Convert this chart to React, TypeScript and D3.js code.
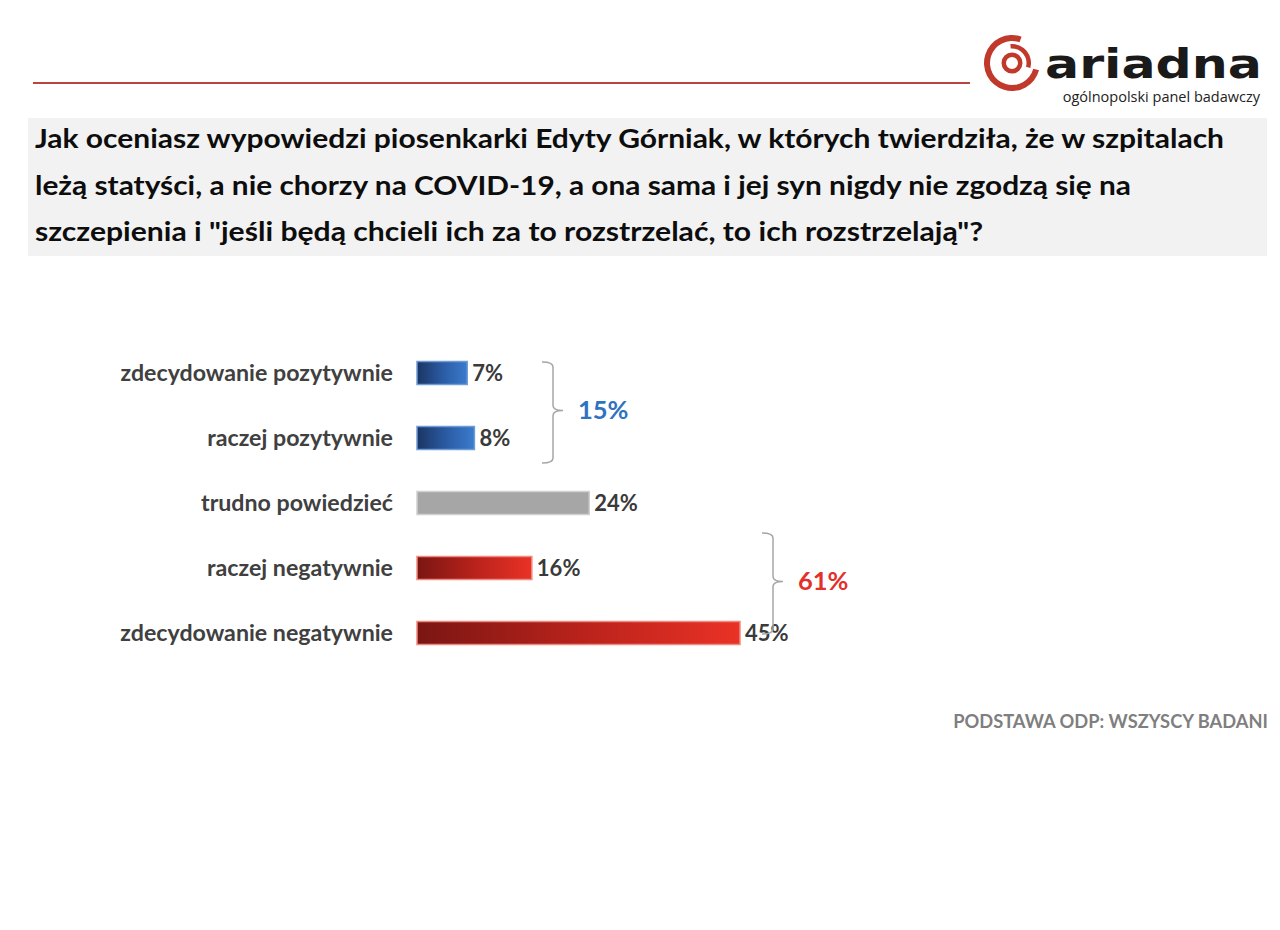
import React from "react";
import * as d3 from "d3";

const categories = [
  "zdecydowanie pozytywnie",
  "raczej pozytywnie",
  "trudno powiedzieć",
  "raczej negatywnie",
  "zdecydowanie negatywnie",
];
const values = [7, 8, 24, 16, 45];
const tones = ["blue", "blue", "grey", "red", "red"];
const groupTotals = [15, 61];
const groupMembers = [[0, 1], [3, 4]];
const titleLines = [
  "Jak oceniasz wypowiedzi piosenkarki Edyty Górniak, w których twierdziła, że w szpitalach",
  "leżą statyści, a nie chorzy na COVID-19, a ona sama i jej syn nigdy nie zgodzą się na",
  "szczepienia i \"jeśli będą chcieli ich za to rozstrzelać, to ich rozstrzelają\"?",
];
const footer = "PODSTAWA ODP: WSZYSCY BADANI";

const FONT = "Lato, 'Open Sans', sans-serif";

export default function App() {
  const x = d3.scaleLinear().domain([0, 45]).range([417, 740]);
  const y = d3.scalePoint<string>().domain(categories).range([373, 633]);
  const barH = 23;
  const titleWidths = [1189, 1096, 948];

  const fills: Record<string, string> = {
    blue: "url(#gBlue)",
    grey: "#a6a6a6",
    red: "url(#gRed)",
  };
  const strokes: Record<string, string> = {
    blue: "#6f9bd6",
    grey: "#cfcfcf",
    red: "#f08a80",
  };

  const braceX = [553, 773];
  const braceTop = [362, 533];
  const braceBottom = [463, 634];
  const totalColors = ["#2e72c0", "#e3302a"];

  const bracePath = (bx: number, top: number, bottom: number) => {
    const mid = (top + bottom) / 2 - 2;
    return `M${bx - 11},${top} Q${bx},${top} ${bx},${top + 5} L${bx},${mid - 5} Q${bx},${mid} ${bx + 10},${mid} Q${bx},${mid} ${bx},${mid + 5} L${bx},${bottom - 5} Q${bx},${bottom} ${bx - 11},${bottom}`;
  };

  const arc = d3.arc();
  const deg = Math.PI / 180;
  const logoCx = 1012;
  const logoCy = 63;

  return (
    <svg
      width={1280}
      height={930}
      style={{ position: "absolute", left: 0, top: 0, background: "#fff" }}
      fontFamily={FONT}
    >
      <defs>
        <linearGradient id="gBlue" x1="0" x2="1" y1="0" y2="0">
          <stop offset="0" stopColor="#1b3563" />
          <stop offset="0.55" stopColor="#2c5ea8" />
          <stop offset="1" stopColor="#3b7bcd" />
        </linearGradient>
        <linearGradient id="gRed" x1="0" x2="1" y1="0" y2="0">
          <stop offset="0" stopColor="#7a1613" />
          <stop offset="0.5" stopColor="#b8221b" />
          <stop offset="1" stopColor="#ea3226" />
        </linearGradient>
      </defs>

      {/* header rule */}
      <line x1={33} x2={970} y1={83} y2={83} stroke="#b8453f" strokeWidth={2} />

      {/* logo */}
      <g transform={`translate(${logoCx},${logoCy})`} fill="#c0392b">
        <path d={arc({ innerRadius: 22, outerRadius: 28, startAngle: 105 * deg, endAngle: 380 * deg }) || ""} />
        <path d={arc({ innerRadius: 14.5, outerRadius: 19, startAngle: -5 * deg, endAngle: 105 * deg }) || ""} />
        <path d={arc({ innerRadius: 6, outerRadius: 10.5, startAngle: 0, endAngle: 2 * Math.PI }) || ""} />
      </g>
      <text
        x={1045}
        y={78}
        fontFamily="'DejaVu Sans', sans-serif"
        fontWeight={700}
        fontSize={41}
        fill="#1a1a1a"
        textLength={217}
        lengthAdjust="spacingAndGlyphs"
      >
        ariadna
      </text>
      <text x={1260} y={102} textAnchor="end" fontSize={14.5} fill="#222" fontFamily="'Open Sans', sans-serif">
        ogólnopolski panel badawczy
      </text>

      {/* title box */}
      <rect x={28} y={118} width={1239} height={138} fill="#f2f2f2" />
      {titleLines.map((t, i) => (
        <text
          key={i}
          x={35}
          y={148 + i * 46.5}
          fontSize={26}
          fontWeight={700}
          fill="#0d0d0d"
          textLength={titleWidths[i]}
          lengthAdjust="spacingAndGlyphs"
        >
          {t}
        </text>
      ))}

      {/* bars */}
      {categories.map((c, i) => {
        const cy = y(c) as number;
        return (
          <g key={c}>
            <text
              x={393}
              y={cy}
              dy="0.35em"
              textAnchor="end"
              fontSize={23.2}
              fontWeight={700}
              fill="#404040"
            >
              {c}
            </text>
            <rect
              x={x(0)}
              y={cy - barH / 2}
              width={x(values[i]) - x(0)}
              height={barH}
              fill={fills[tones[i]]}
              stroke={strokes[tones[i]]}
              strokeWidth={1.5}
            />
            <text
              x={x(values[i]) + 5}
              y={cy}
              dy="0.35em"
              fontSize={22}
              fontWeight={700}
              fill="#3a3a3a"
            >
              {values[i]}%
            </text>
          </g>
        );
      })}

      {/* braces */}
      {groupTotals.map((t, gi) => {
        const bx = braceX[gi];
        const top = braceTop[gi];
        const bottom = braceBottom[gi];
        const mid = (top + bottom) / 2 - 2;
        return (
          <g key={gi}>
            <path d={bracePath(bx, top, bottom)} fill="none" stroke="#a6a6a6" strokeWidth={1.5} />
            <text
              x={bx + 25}
              y={mid}
              dy="0.35em"
              fontSize={25.5}
              fontWeight={700}
              fill={totalColors[gi]}
            >
              {t}%
            </text>
          </g>
        );
      })}

      {/* footer */}
      <text x={1268} y={722} dy="0.35em" textAnchor="end" fontSize={18.3} fontWeight={700} fill="#7f7f7f">
        {footer}
      </text>
    </svg>
  );
}
